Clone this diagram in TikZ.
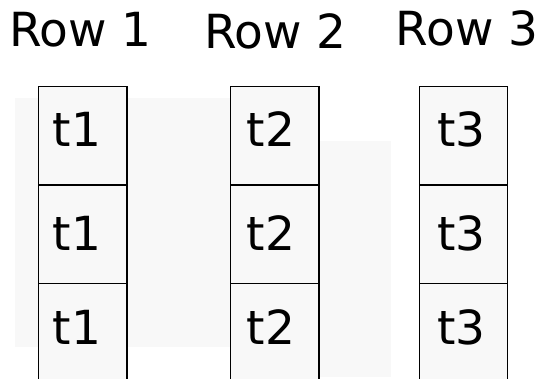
\documentclass[tikz,border=0pt]{standalone}
\usepackage{fontspec}
\setmainfont{DejaVu Sans}
\definecolor{bgc}{HTML}{F8F8F8}
\tikzset{
  cellbox/.style={draw=black, line width=1.3pt, fill=bgc, minimum width=88.4pt, minimum height=98.4pt, inner sep=0pt, outer sep=0pt},
  celltext/.style={anchor=base, inner sep=0pt, font=\fontsize{47}{56}\selectfont},
  title/.style={anchor=base, inner sep=0pt, font=\fontsize{47}{56}\selectfont},
  backdrop/.style={fill=bgc, draw=none}
}
\begin{document}
\begin{tikzpicture}[x=1pt,y=-1pt]
\useasboundingbox (0,0) rectangle (539,379);
\clip (0,0) rectangle (539,379);
\fill[white] (0,0) rectangle (539,379);
% backdrops
\fill[backdrop] (15,98) rectangle (231,347);
\fill[backdrop] (250,141) rectangle (391,377.5);
% titles
\node[title] (h1) at (80.3,46.7) {Row 1};
\node[title] (h2) at (275.3,48.7) {Row 2};
\node[title] (h3) at (467,45.7) {Row 3};
% column 1
\node[cellbox] (a1) at (82.7,135.9) {};
\node[cellbox] (a2) at (82.7,234.3) {};
\node[cellbox] (a3) at (82.7,332.7) {};
% column 2
\node[cellbox] (b1) at (274.7,135.9) {};
\node[cellbox] (b2) at (274.7,234.3) {};
\node[cellbox] (b3) at (274.7,332.7) {};
% column 3
\node[cellbox] (c1) at (463.5,135.9) {};
\node[cellbox] (c2) at (463.5,234.3) {};
\node[cellbox] (c3) at (463.5,332.7) {};
% texts
\node[celltext] (ta1) at (77,146.5) {t1};
\node[celltext] (ta2) at (77,250.5) {t1};
\node[celltext] (ta3) at (77,344.5) {t1};
\node[celltext] (tb1) at (270.8,146.5) {t2};
\node[celltext] (tb2) at (270.8,250.5) {t2};
\node[celltext] (tb3) at (270.8,344.5) {t2};
\node[celltext] (tc1) at (461.7,146.5) {t3};
\node[celltext] (tc2) at (461.7,250.5) {t3};
\node[celltext] (tc3) at (461.7,344.5) {t3};
\end{tikzpicture}
\end{document}
